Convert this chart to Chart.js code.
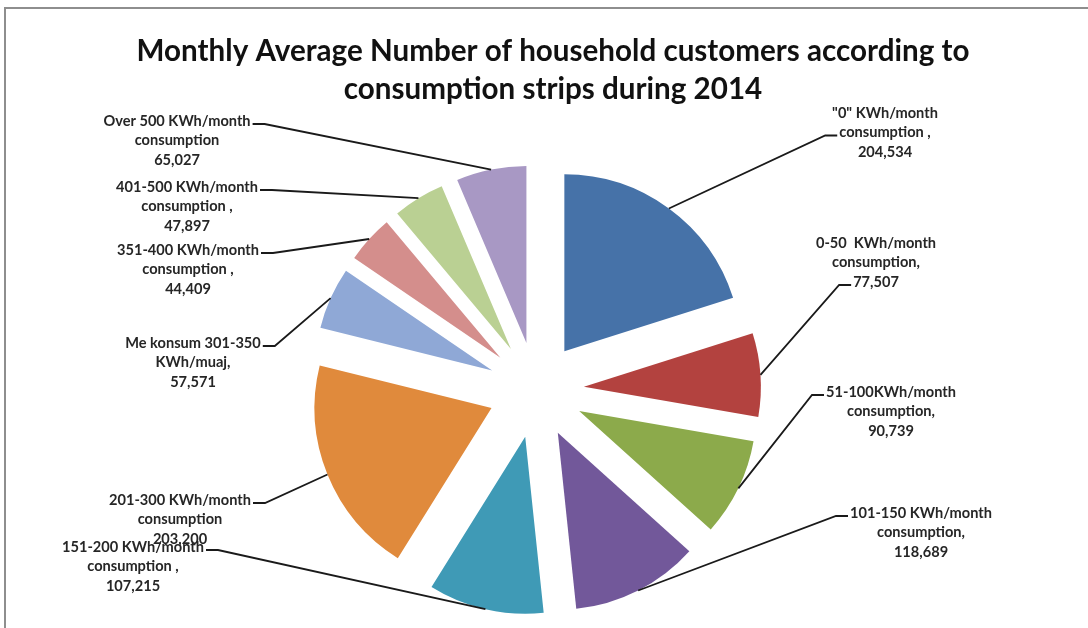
<!DOCTYPE html>
<html>
<head>
<meta charset="utf-8">
<script src="https://cdn.jsdelivr.net/npm/chart.js@4/dist/chart.umd.min.js"></script>
<style>
  html, body { margin: 0; padding: 0; background: #fff; }
  #wrap { position: relative; width: 1088px; height: 628px; overflow: hidden; }
  #wrap canvas { position: absolute; left: 0; top: 0; }
  #frame {
    position: absolute; left: 4px; top: 7px; width: 1100px; height: 640px;
    border-left: 2px solid #8e8e8e; border-top: 2px solid #8e8e8e;
    pointer-events: none;
  }
</style>
</head>
<body>
<div id="wrap">
  <canvas id="stripsPie" width="1088" height="628"></canvas>
  <div id="frame"></div>
</div>
<script>
// data
const titleLines = [
    'Monthly Average Number of household customers according to',
    'consumption strips during 2014'
];

const categories = [
    ['"0" KWh/month', 'consumption ,'],
    ['0-50  KWh/month', 'consumption,'],
    ['51-100KWh/month', 'consumption,'],
    ['101-150 KWh/month', 'consumption,'],
    ['151-200 KWh/month', 'consumption ,'],
    ['201-300 KWh/month', 'consumption'],
    ['Me konsum 301-350', 'KWh/muaj,'],
    ['351-400 KWh/month', 'consumption ,'],
    ['401-500 KWh/month', 'consumption ,'],
    ['Over 500 KWh/month', 'consumption']
];

const customers = [204534, 77507, 90739, 118689, 107215, 203200, 57571, 44409, 47897, 65027];

const sliceColors = [
    '#4672A8', '#B3423F', '#8CAA4B', '#72589A', '#3F9AB6',
    '#E08A3C', '#8FA8D6', '#D48E8C', '#BAD093', '#A898C4'
];

// where each label block sits (center x, first row y), which row the leader line leaves from
const labelLayout = [
    { x: 885, y: 113, row: 1, side: 'left' },
    { x: 876, y: 243, row: 2, side: 'left' },
    { x: 891, y: 392, row: 0, side: 'left' },
    { x: 921, y: 513, row: 0, side: 'left' },
    { x: 133, y: 547, row: 0, side: 'right' },
    { x: 180, y: 500, row: 0, side: 'right' },
    { x: 193, y: 343, row: 0, side: 'right' },
    { x: 188, y: 250, row: 0, side: 'right' },
    { x: 187, y: 187, row: 0, side: 'right' },
    { x: 177, y: 121, row: 0, side: 'right' }
];

// push every slice out along its middle angle, like an exploded Excel pie
const explode = {
    id: 'explode',
    afterDatasetsUpdate(chart, args, opts) {
        chart.getDatasetMeta(0).data.forEach(arc => {
            const mid = (arc.startAngle + arc.endAngle) / 2;
            arc.x += Math.cos(mid) * opts.distance;
            arc.y += Math.sin(mid) * opts.distance;
        });
    }
};

const leaderLabels = {
    id: 'leaderLabels',
    afterDatasetsDraw(chart, args, opts) {
        const ctx = chart.ctx;
        const arcs = chart.getDatasetMeta(0).data;

        ctx.save();
        ctx.font = opts.font;
        ctx.fillStyle = opts.color;
        ctx.strokeStyle = opts.lineColor;
        ctx.lineWidth = 1.8;
        ctx.textAlign = 'center';
        ctx.textBaseline = 'middle';

        arcs.forEach((arc, i) => {
            const pos = labelLayout[i];
            const lines = categories[i].concat(customers[i].toLocaleString('en-US'));

            const rowW = ctx.measureText(lines[pos.row]).width;
            const ly = pos.y + pos.row * opts.lineHeight + 3;
            const lx = pos.side === 'right' ? pos.x + rowW / 2 + 2 : pos.x - rowW / 2 - 2;
            const ex = pos.side === 'right' ? lx + 12 : lx - 12;
            const mid = (arc.startAngle + arc.endAngle) / 2;
            const px = arc.x + Math.cos(mid) * arc.outerRadius;
            const py = arc.y + Math.sin(mid) * arc.outerRadius;

            ctx.beginPath();
            ctx.moveTo(lx, ly);
            ctx.lineTo(ex, ly);
            ctx.lineTo(px, py);
            ctx.stroke();

            lines.forEach((t, k) => {
                ctx.fillText(t, pos.x, pos.y + k * opts.lineHeight);
            });
        });

        // title
        ctx.font = opts.titleFont;
        ctx.fillStyle = '#111';
        titleLines.forEach((t, k) => {
            ctx.fillText(t, opts.titleX, opts.titleY + k * 38);
        });
        ctx.restore();
    }
};

const ctx = document.getElementById('stripsPie').getContext('2d');

new Chart(ctx, {
    type: 'pie',
    data: {
        labels: categories.map(c => c.join(' ')),
        datasets: [{
            data: customers,
            backgroundColor: sliceColors,
            borderWidth: 0,
            radius: 177
        }]
    },
    options: {
        responsive: false,
        animation: false,
        events: [],
        layout: {
            padding: { left: 0, right: 16, top: 152, bottom: 0 }
        },
        plugins: {
            legend: { display: false },
            tooltip: { enabled: false },
            explode: { distance: 48 },
            leaderLabels: {
                font: 'bold 14.6px Lato',
                color: '#262626',
                lineColor: '#1a1a1a',
                lineHeight: 19.5,
                titleFont: 'bold 29.6px Lato',
                titleX: 553,
                titleY: 51
            }
        }
    },
    plugins: [explode, leaderLabels]
});
</script>
</body>
</html>
